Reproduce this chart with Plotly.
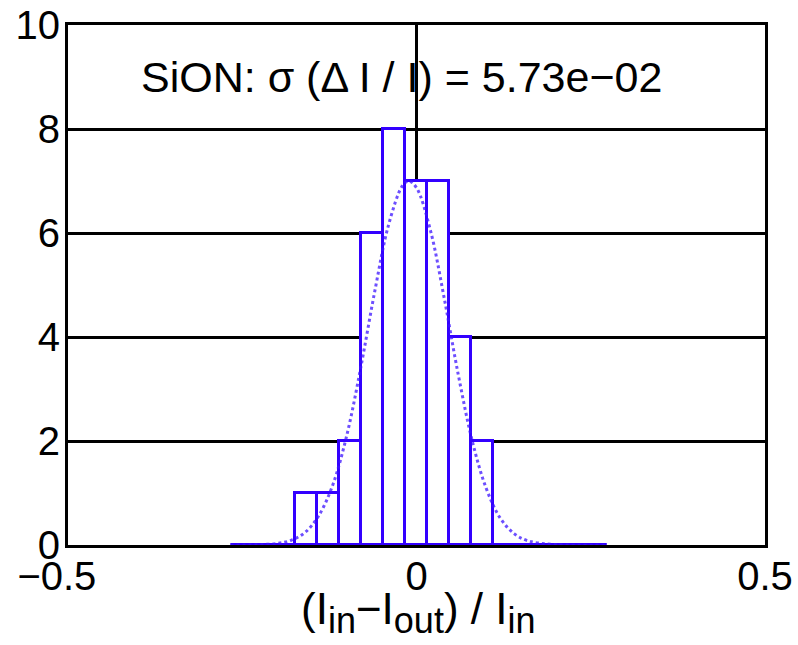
import plotly.graph_objects as go

# ---- data ----
bin_centers = [-0.1585, -0.1270, -0.0955, -0.0640, -0.0325, -0.0010, 0.0305, 0.0620, 0.0935]
bin_counts = [1, 1, 2, 6, 8, 7, 7, 4, 2]
bin_width = 0.0315

fit_x = [-0.267, -0.23, -0.20, -0.18, -0.16, -0.14, -0.12, -0.10, -0.08, -0.06, -0.04, -0.02,
         -0.011, 0.00, 0.02, 0.04, 0.06, 0.08, 0.10, 0.12, 0.14, 0.16, 0.20, 0.273]
fit_y = [0.00, 0.005, 0.03, 0.09, 0.24, 0.57, 1.16, 2.11, 3.41, 4.87, 6.16, 6.91,
         7.00, 6.87, 6.05, 4.73, 3.27, 2.00, 1.09, 0.52, 0.22, 0.08, 0.008, 0.00]

base_x = [-0.267, 0.273]
base_y = [0, 0]

x_ticks = [-0.5, 0, 0.5]
x_ticktext = ["\u22120.5\u2007", "0", "0.5"]
y_ticks = [0, 2, 4, 6, 8, 10]

title_text = "SiON: \u03c3 (\u0394 I / I) = 5.73e\u221202"
SUB = "<sub><span style='font-size:36px'>{}</span></sub>"
xlabel_text = "(I" + SUB.format("in") + "\u2212I" + SUB.format("out") + ") / I" + SUB.format("in")

BLUE = "#3300ff"
FONT = "Liberation Sans, Arial, sans-serif"

fig = go.Figure()
fig.add_trace(go.Bar(
    x=bin_centers, y=bin_counts, width=bin_width,
    marker=dict(color="white", line=dict(color=BLUE, width=3)),
    hoverinfo="skip",
))
fig.add_trace(go.Scatter(
    x=base_x, y=base_y, mode="lines",
    line=dict(color=BLUE, width=4), hoverinfo="skip",
))
fig.add_trace(go.Scatter(
    x=fit_x, y=fit_y, mode="lines", line_shape="spline",
    line=dict(color="rgba(60,20,255,0.75)", width=3, dash="dot"),
    hoverinfo="skip",
))

fig.update_layout(
    width=798, height=645,
    margin=dict(l=68, r=33, t=25, b=100),
    paper_bgcolor="white", plot_bgcolor="white",
    showlegend=False, bargap=0,
    font=dict(family=FONT, color="black", size=40),
    xaxis=dict(
        range=[-0.5, 0.5], tickmode="array", tickvals=x_ticks, ticktext=x_ticktext,
        showgrid=True, gridcolor="black", gridwidth=3,
        showline=True, linecolor="black", linewidth=3, mirror=True,
        zeroline=False, ticks="", ticklabelstandoff=-6, automargin=False,
        tickfont=dict(size=40, family=FONT, color="black"),
        layer="below traces",
    ),
    yaxis=dict(
        range=[0, 10], tickmode="array", tickvals=y_ticks,
        showgrid=True, gridcolor="black", gridwidth=3,
        showline=True, linecolor="black", linewidth=3, mirror=True,
        zeroline=False, ticks="", ticklabelstandoff=-3, automargin=False,
        tickfont=dict(size=40, family=FONT, color="black"),
        layer="below traces",
    ),
    annotations=[
        dict(text=title_text, x=-0.021, y=9.0, xref="x", yref="y",
             xanchor="center", yanchor="middle", showarrow=False,
             font=dict(size=43, family=FONT, color="black")),
        dict(text=xlabel_text, x=0.002, y=-0.072, xref="x", yref="paper",
             xanchor="center", yanchor="top", showarrow=False,
             font=dict(size=44, family=FONT, color="black")),
    ],
)

fig.write_html("out.html")
